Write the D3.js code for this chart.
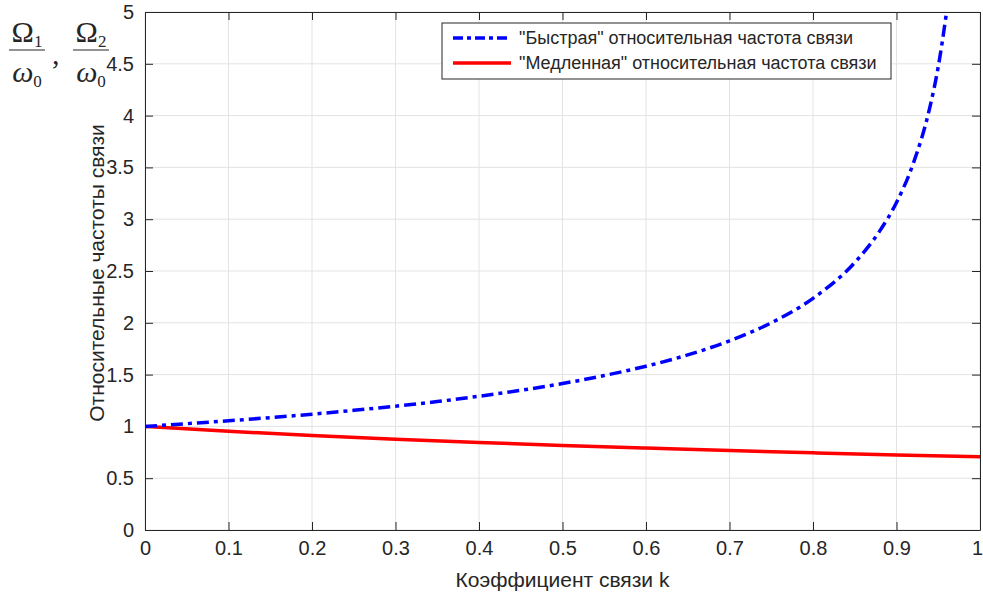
<!DOCTYPE html>
<html>
<head>
<meta charset="utf-8">
<script src="https://cdn.jsdelivr.net/npm/d3@7"></script>
<style>
	body { margin: 0; background: #fff; }
	text { font-family: "Liberation Sans", Arial, sans-serif; fill: #262626; }
</style>
</head>
<body>
<div id="chart"></div>
<script>
// coupling coefficient k
const kFast = [0, 0.05, 0.1, 0.15, 0.2, 0.25, 0.3, 0.35, 0.4, 0.45, 0.5, 0.55, 0.6, 0.65, 0.7, 0.75, 0.8, 0.85, 0.88, 0.9, 0.92, 0.94, 0.95, 0.96];
const fastValues = [1, 1.026, 1.054, 1.085, 1.118, 1.155, 1.195, 1.24, 1.291, 1.348, 1.414, 1.491, 1.581, 1.69, 1.826, 2.0, 2.236, 2.582, 2.887, 3.162, 3.536, 4.082, 4.472, 5.0];
const kSlow = [0, 0.1, 0.2, 0.3, 0.4, 0.5, 0.6, 0.7, 0.8, 0.9, 1.0];
const slowValues = [1, 0.953, 0.913, 0.877, 0.845, 0.816, 0.791, 0.767, 0.745, 0.725, 0.707];
const xTicks = [0, 0.1, 0.2, 0.3, 0.4, 0.5, 0.6, 0.7, 0.8, 0.9, 1];
const yTicks = [0, 0.5, 1, 1.5, 2, 2.5, 3, 3.5, 4, 4.5, 5];
const legendLabels = ['"Быстрая" относительная частота связи', '"Медленная" относительная частота связи'];

const width = 983, height = 596;
const margin = {left: 145, right: 3, top: 12, bottom: 66};

let svg = d3.select("#chart").append("svg").attr("width", width).attr("height", height);

let x = d3.scaleLinear().domain([0, 1]).range([margin.left, width - margin.right]);
let y = d3.scaleLinear().domain([0, 5]).range([height - margin.bottom, margin.top]);

// grid
svg.append("g").selectAll("line").data(xTicks).join("line")
	.attr("x1", d => x(d)).attr("x2", d => x(d))
	.attr("y1", y(0)).attr("y2", y(5))
	.attr("stroke", "#e3e3e3").attr("stroke-width", 1);
svg.append("g").selectAll("line").data(yTicks).join("line")
	.attr("x1", x(0)).attr("x2", x(1))
	.attr("y1", d => y(d)).attr("y2", d => y(d))
	.attr("stroke", "#e3e3e3").attr("stroke-width", 1);

// axes (ticks inside, box on)
let fmt = d => String(d);
let xAxis = svg.append("g").attr("transform", `translate(0,${y(0)})`)
	.call(d3.axisBottom(x).tickValues(xTicks).tickFormat(fmt).tickSizeInner(-8).tickSizeOuter(0).tickPadding(11));
let xAxisTop = svg.append("g").attr("transform", `translate(0,${y(5)})`)
	.call(d3.axisTop(x).tickValues(xTicks).tickFormat("").tickSizeInner(-8).tickSizeOuter(0));
let yAxis = svg.append("g").attr("transform", `translate(${x(0)},0)`)
	.call(d3.axisLeft(y).tickValues(yTicks).tickFormat(fmt).tickSizeInner(-8).tickSizeOuter(0).tickPadding(11));
let yAxisRight = svg.append("g").attr("transform", `translate(${x(1)},0)`)
	.call(d3.axisRight(y).tickValues(yTicks).tickFormat("").tickSizeInner(-8).tickSizeOuter(0));

[xAxis, xAxisTop, yAxis, yAxisRight].forEach(a => {
	a.select(".domain").attr("stroke", "#262626").attr("stroke-width", 1);
	a.selectAll(".tick line").attr("stroke", "#262626");
	a.selectAll("text").attr("font-size", 20).attr("fill", "#262626")
		.style("font-family", '"Liberation Sans", Arial, sans-serif');
});
// keep the last x label inside the picture
xAxis.selectAll(".tick text").filter(d => d === 1).attr("dx", -3);

// curves
let clip = svg.append("clipPath").attr("id", "plot-clip").append("rect")
	.attr("x", x(0)).attr("y", y(5)).attr("width", x(1) - x(0)).attr("height", y(0) - y(5));

let line = d3.line().x(d => x(d[0])).y(d => y(d[1])).curve(d3.curveMonotoneX);

svg.append("path").datum(kSlow.map((k, i) => [k, slowValues[i]]))
	.attr("d", line).attr("fill", "none").attr("stroke", "#ff0000").attr("stroke-width", 3.5)
	.attr("clip-path", "url(#plot-clip)");
svg.append("path").datum(kFast.map((k, i) => [k, fastValues[i]]))
	.attr("d", line).attr("fill", "none").attr("stroke", "#0000ff").attr("stroke-width", 3.5)
	.attr("stroke-dasharray", "12,5,4,5")
	.attr("clip-path", "url(#plot-clip)");

// legend
let legend = svg.append("g").attr("transform", "translate(442,23)");
legend.append("rect").attr("width", 449).attr("height", 56)
	.attr("fill", "#fff").attr("stroke", "#262626").attr("stroke-width", 1);
let legendStyles = [{color: "#0000ff", dash: "10,4,4,4"}, {color: "#ff0000", dash: null}];
legendLabels.forEach((lab, i) => {
	let ly = 15 + i * 25;
	legend.append("line").attr("x1", 11).attr("x2", 69).attr("y1", ly).attr("y2", ly)
		.attr("stroke", legendStyles[i].color).attr("stroke-width", 3.5)
		.attr("stroke-dasharray", legendStyles[i].dash);
	legend.append("text").attr("x", 77).attr("y", ly + 6).attr("font-size", 18).text(lab);
});

// axis labels
svg.append("text").attr("x", (x(0) + x(1)) / 2).attr("y", 587).attr("text-anchor", "middle")
	.attr("font-size", 21).text("Коэффициент связи k");
svg.append("text").attr("transform", `translate(104,${y(2.5) + 2}) rotate(-90)`).attr("text-anchor", "middle")
	.attr("font-size", 21).text("Относительные частоты связи");

// top-left formula annotation
let formula = svg.append("g");
function fraction(g, cx, sub) {
	g.append("text").attr("x", cx).attr("y", 42).attr("text-anchor", "middle").attr("font-size", 30)
		.style("font-family", '"Liberation Serif", serif').text("Ω")
		.append("tspan").attr("font-size", 17).attr("dy", 5).text(sub);
	g.append("line").attr("x1", cx - 18).attr("x2", cx + 18).attr("y1", 50).attr("y2", 50)
		.attr("stroke", "#262626").attr("stroke-width", 1.2);
	g.append("text").attr("x", cx).attr("y", 82).attr("text-anchor", "middle").attr("font-size", 30)
		.attr("font-style", "italic").style("font-family", '"Liberation Serif", serif').text("ω")
		.append("tspan").attr("font-size", 17).attr("font-style", "normal").attr("dy", 5).text("0");
}
fraction(formula, 27, "1");
formula.append("text").attr("x", 52).attr("y", 64).attr("font-size", 30)
	.style("font-family", '"Liberation Serif", serif').text(",");
fraction(formula, 91, "2");
</script>
</body>
</html>
